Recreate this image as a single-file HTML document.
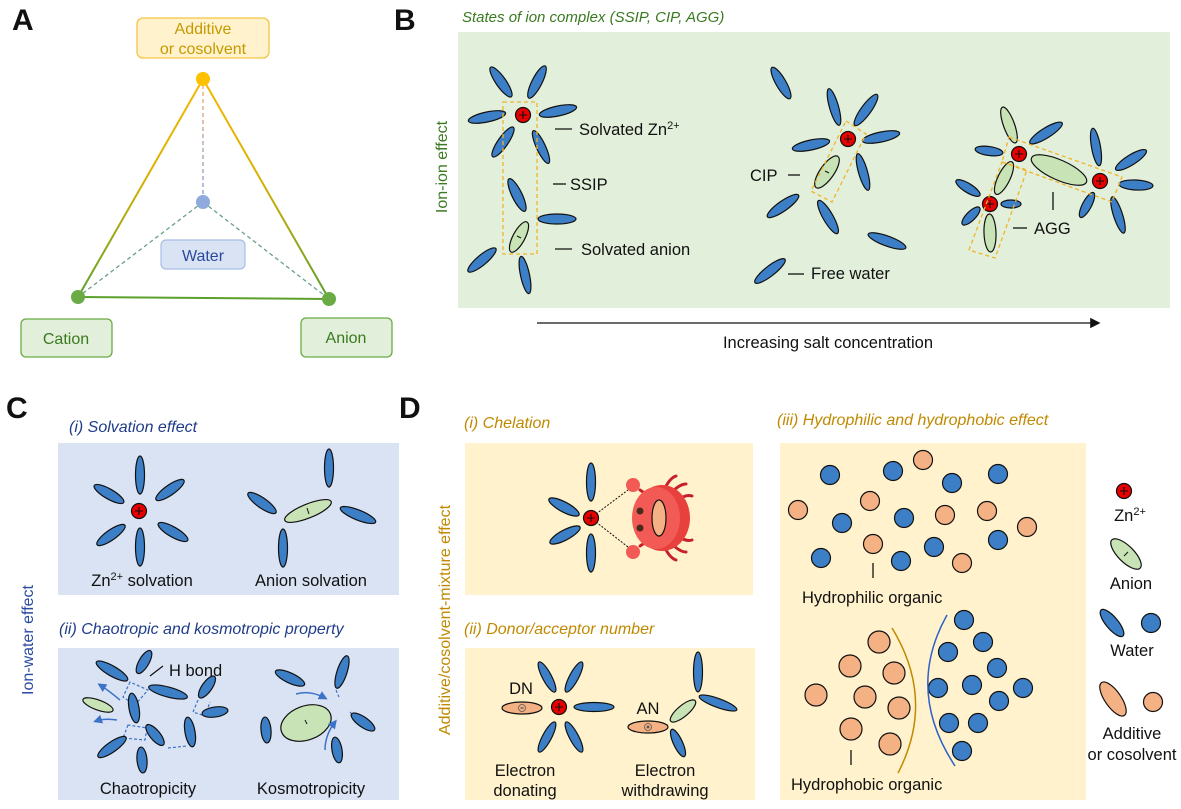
<!DOCTYPE html>
<html><head><meta charset="utf-8"><style>
html,body{margin:0;padding:0;background:#fff;}
svg{display:block;font-family:"Liberation Sans",Arial,sans-serif;}
.w{fill:#3d7fc6;stroke:#111;stroke-width:1.2}
.a{fill:#c8e3b6;stroke:#111;stroke-width:1.2}
.o{fill:#f4b183;stroke:#111;stroke-width:1.2}
.t{font-size:16.5px;fill:#111}
.dsh{fill:none;stroke:#f0b429;stroke-width:1.3;stroke-dasharray:4 3}
</style></head><body>
<svg width="1181" height="809" viewBox="0 0 1181 809" xmlns="http://www.w3.org/2000/svg">
<defs>
<g id="zn"><circle r="7.5" fill="#e60000" stroke="#111" stroke-width="1.2"/><path d="M-4 0H4M0 -4V4" stroke="#111" stroke-width="1.1"/></g>
<linearGradient id="gl" gradientUnits="userSpaceOnUse" x1="0" y1="79" x2="0" y2="299"><stop offset="0" stop-color="#f5b800"/><stop offset="0.45" stop-color="#d8b000"/><stop offset="1" stop-color="#5aa02c"/></linearGradient>
<linearGradient id="gv" gradientUnits="userSpaceOnUse" x1="0" y1="85" x2="0" y2="200"><stop offset="0" stop-color="#f0a860"/><stop offset="1" stop-color="#7a9ad8"/></linearGradient>
<marker id="ar" markerWidth="8" markerHeight="8" refX="6" refY="4" orient="auto"><path d="M0 0L8 4L0 8z" fill="#111"/></marker>
<marker id="ab" markerWidth="6" markerHeight="6" refX="4" refY="3" orient="auto"><path d="M0 0L6 3L0 6z" fill="#3b73c8"/></marker>
</defs>

<!-- Letters -->
<g font-weight="bold" font-size="30" fill="#111">
<text x="12" y="30">A</text><text x="394" y="30">B</text><text x="6" y="418">C</text><text x="399" y="418">D</text></g>

<!-- Panel A -->
<line x1="203" y1="79" x2="78" y2="297" stroke="url(#gl)" stroke-width="2"/>
<line x1="203" y1="79" x2="329" y2="299" stroke="url(#gl)" stroke-width="2"/>
<line x1="78" y1="297" x2="329" y2="299" stroke="#5aa02c" stroke-width="2"/>
<line x1="203" y1="85" x2="203" y2="200" stroke="url(#gv)" stroke-width="1.3" stroke-dasharray="4 3"/>
<line x1="203" y1="202" x2="78" y2="297" stroke="#6a9e8a" stroke-width="1.3" stroke-dasharray="4 3"/>
<line x1="203" y1="202" x2="329" y2="299" stroke="#6a9e8a" stroke-width="1.3" stroke-dasharray="4 3"/>
<circle cx="203" cy="79" r="7" fill="#ffc000"/>
<circle cx="203" cy="202" r="7" fill="#8faadc"/>
<circle cx="78" cy="297" r="7" fill="#6aab45"/>
<circle cx="329" cy="299" r="7" fill="#6aab45"/>
<rect x="137" y="18" width="132" height="40" rx="6" fill="#fff2cc" stroke="#f4c542" stroke-width="1.3"/>
<text x="203" y="34" text-anchor="middle" font-size="16" fill="#c59a00">Additive</text>
<text x="203" y="54" text-anchor="middle" font-size="16" fill="#c59a00">or cosolvent</text>
<rect x="161" y="240" width="84" height="29" rx="5" fill="#dae3f3" stroke="#a9bde6" stroke-width="1.2"/>
<text x="203" y="261" text-anchor="middle" font-size="16" fill="#2a4aa0">Water</text>
<rect x="21" y="319" width="91" height="38" rx="5" fill="#e2efda" stroke="#6aab45" stroke-width="1.3"/>
<text x="66" y="344" text-anchor="middle" font-size="16" fill="#3a7a20">Cation</text>
<rect x="301" y="318" width="91" height="39" rx="5" fill="#e2efda" stroke="#6aab45" stroke-width="1.3"/>
<text x="346" y="343" text-anchor="middle" font-size="16" fill="#3a7a20">Anion</text>

<!-- Panel B -->
<text x="462" y="22" font-size="15" font-style="italic" fill="#3a7a20">States of ion complex (SSIP, CIP, AGG)</text>
<rect x="458" y="32" width="712" height="276" fill="#e2efda"/>
<text transform="translate(447,167) rotate(-90)" text-anchor="middle" font-size="16" fill="#3a7a20">Ion-ion effect</text>
<line x1="537" y1="323" x2="1098" y2="323" stroke="#111" stroke-width="1.3" marker-end="url(#ar)"/>
<text x="828" y="348" text-anchor="middle" class="t">Increasing salt concentration</text>

<!-- group 1 -->
<ellipse class="w" rx="18" ry="5" transform="translate(501,82) rotate(55)"/>
<ellipse class="w" rx="18" ry="5" transform="translate(537,82) rotate(-63)"/>
<ellipse class="w" rx="19" ry="5" transform="translate(487,117) rotate(-12)"/>
<ellipse class="w" rx="19" ry="5" transform="translate(558,111) rotate(-12)"/>
<ellipse class="w" rx="18" ry="5" transform="translate(503,142) rotate(-55)"/>
<ellipse class="w" rx="18" ry="4.5" transform="translate(541,147) rotate(65)"/>
<ellipse class="w" rx="18" ry="5" transform="translate(517,195) rotate(64)"/>
<ellipse class="w" rx="19" ry="5" transform="translate(557,219) rotate(0)"/>
<ellipse class="w" rx="18" ry="5" transform="translate(482,260) rotate(-40)"/>
<ellipse class="w" rx="19" ry="4.5" transform="translate(525,275) rotate(78)"/>
<ellipse class="a" rx="17" ry="6" transform="translate(519,237) rotate(-62)"/>
<line x1="517" y1="236" x2="521" y2="238" stroke="#111"/>
<use href="#zn" x="523" y="115"/>
<rect x="503" y="102" width="34" height="152" class="dsh"/>
<g stroke="#111" stroke-width="1.3"><line x1="555" y1="129" x2="572" y2="129"/><line x1="553" y1="184" x2="566" y2="184"/><line x1="555" y1="249" x2="572" y2="249"/></g>
<text x="579" y="135" class="t">Solvated Zn<tspan font-size="11" dy="-6">2+</tspan></text>
<text x="570" y="190" class="t">SSIP</text>
<text x="581" y="255" class="t">Solvated anion</text>

<!-- group 2 -->
<ellipse class="w" rx="18" ry="5" transform="translate(781,83) rotate(60)"/>
<ellipse class="w" rx="19" ry="4.5" transform="translate(834,107) rotate(74)"/>
<ellipse class="w" rx="19" ry="5" transform="translate(866,110) rotate(-54)"/>
<ellipse class="w" rx="19" ry="5" transform="translate(811,145) rotate(-12)"/>
<ellipse class="w" rx="19" ry="5" transform="translate(881,137) rotate(-12)"/>
<ellipse class="w" rx="19" ry="4.5" transform="translate(863,172) rotate(74)"/>
<ellipse class="w" rx="19" ry="5" transform="translate(783,206) rotate(-35)"/>
<ellipse class="w" rx="19" ry="5" transform="translate(828,217) rotate(60)"/>
<ellipse class="w" rx="20" ry="5" transform="translate(887,241) rotate(20)"/>
<ellipse class="w" rx="19" ry="5" transform="translate(770,271) rotate(-38)"/>
<ellipse class="a" rx="19" ry="7" transform="translate(827,172) rotate(-55)"/>
<line x1="825" y1="171" x2="829" y2="173" stroke="#111"/>
<use href="#zn" x="848" y="139"/>
<polygon points="846,121 866,134 832,202 811,191" class="dsh"/>
<g stroke="#111" stroke-width="1.3"><line x1="788" y1="175" x2="800" y2="175"/><line x1="788" y1="274" x2="804" y2="274"/></g>
<text x="750" y="181" class="t">CIP</text>
<text x="811" y="279" class="t">Free water</text>

<!-- group 3 -->
<ellipse class="w" rx="19" ry="5" transform="translate(1046,133) rotate(-32)"/>
<ellipse class="w" rx="14" ry="4.5" transform="translate(989,151) rotate(8)"/>
<ellipse class="w" rx="19" ry="4.5" transform="translate(1096,147) rotate(80)"/>
<ellipse class="w" rx="18" ry="5" transform="translate(1131,160) rotate(-32)"/>
<ellipse class="w" rx="17" ry="5" transform="translate(1136,185) rotate(3)"/>
<ellipse class="w" rx="14" ry="4.5" transform="translate(1087,205) rotate(-62)"/>
<ellipse class="w" rx="19" ry="4.5" transform="translate(1118,215) rotate(72)"/>
<ellipse class="w" rx="14" ry="4.5" transform="translate(968,188) rotate(32)"/>
<ellipse class="w" rx="10" ry="4" transform="translate(1011,204) rotate(0)"/>
<ellipse class="w" rx="12" ry="4.5" transform="translate(971,216) rotate(-45)"/>
<ellipse class="a" rx="30" ry="10" transform="translate(1059,170) rotate(24)"/>
<ellipse class="a" rx="19" ry="5.5" transform="translate(1009,125) rotate(70)"/>
<ellipse class="a" rx="18" ry="6" transform="translate(1004,178) rotate(-64)"/>
<ellipse class="a" rx="19" ry="6" transform="translate(990,233) rotate(88)"/>
<use href="#zn" x="1019" y="154"/><use href="#zn" x="1100" y="181"/><use href="#zn" x="990" y="204"/>
<polygon points="1009,137 1122,177 1112,202 1002,162" class="dsh"/>
<polygon points="1002,162 1027,170 995,258 969,250" class="dsh"/>
<g stroke="#111" stroke-width="1.3"><line x1="1053" y1="192" x2="1053" y2="210"/><line x1="1013" y1="228" x2="1027" y2="228"/></g>
<text x="1034" y="234" class="t">AGG</text>

<!-- Panel C -->
<text transform="translate(33,640) rotate(-90)" text-anchor="middle" font-size="16" fill="#2a4aa0">Ion-water effect</text>
<text x="69" y="432" font-size="16" font-style="italic" fill="#1f3c88">(i) Solvation effect</text>
<rect x="58" y="443" width="341" height="152" fill="#dae3f3"/>
<ellipse class="w" rx="19" ry="4.5" transform="translate(140,475) rotate(90)"/>
<ellipse class="w" rx="19" ry="4.5" transform="translate(140,547) rotate(90)"/>
<ellipse class="w" rx="17" ry="5" transform="translate(109,494) rotate(30)"/>
<ellipse class="w" rx="17" ry="5" transform="translate(170,490) rotate(-35)"/>
<ellipse class="w" rx="17" ry="5" transform="translate(111,535) rotate(-35)"/>
<ellipse class="w" rx="17" ry="5" transform="translate(173,532) rotate(30)"/>
<use href="#zn" x="139" y="511"/>
<ellipse class="w" rx="19" ry="4.5" transform="translate(329,468) rotate(90)"/>
<ellipse class="w" rx="17" ry="5" transform="translate(262,503) rotate(35)"/>
<ellipse class="w" rx="19" ry="5" transform="translate(358,515) rotate(22)"/>
<ellipse class="w" rx="19" ry="4.5" transform="translate(283,548) rotate(90)"/>
<ellipse class="a" rx="25" ry="7" transform="translate(308,511) rotate(-22)"/>
<line x1="307" y1="508" x2="309" y2="514" stroke="#111"/>
<text x="142" y="586" text-anchor="middle" class="t">Zn<tspan font-size="11" dy="-6">2+</tspan><tspan dy="6"> solvation</tspan></text>
<text x="311" y="586" text-anchor="middle" class="t">Anion solvation</text>

<text x="59" y="634" font-size="16" font-style="italic" fill="#1f3c88">(ii) Chaotropic and kosmotropic property</text>
<rect x="58" y="648" width="341" height="152" fill="#dae3f3"/>
<g stroke="#3b73c8" stroke-width="1.2" stroke-dasharray="3 2" fill="none">
<path d="M130 682 L123 697 L135 705 L148 690 Z"/><path d="M198 700 L193 712 L205 716 L210 702"/>
<path d="M128 725 L123 738 L145 740 L147 728 Z"/><path d="M168 748 L187 746"/>
<path d="M336 690 L339 697"/><path d="M350 712 L355 717"/></g>
<ellipse class="w" rx="18" ry="5" transform="translate(112,671) rotate(30)"/>
<ellipse class="w" rx="13" ry="5" transform="translate(144,662) rotate(-60)"/>
<ellipse class="w" rx="20" ry="5" transform="translate(168,692) rotate(15)"/>
<ellipse class="w" rx="13" ry="5" transform="translate(207,687) rotate(-55)"/>
<ellipse class="w" rx="13" ry="5" transform="translate(215,712) rotate(-8)"/>
<ellipse class="w" rx="15" ry="5" transform="translate(134,708) rotate(80)"/>
<ellipse class="w" rx="15" ry="5" transform="translate(190,732) rotate(80)"/>
<ellipse class="w" rx="17" ry="5" transform="translate(112,747) rotate(-35)"/>
<ellipse class="w" rx="13" ry="5" transform="translate(155,735) rotate(50)"/>
<ellipse class="w" rx="13" ry="5" transform="translate(142,760) rotate(85)"/>
<ellipse class="a" rx="16" ry="5" transform="translate(98,705) rotate(20)"/>
<path d="M120 700 Q108 690 100 685" stroke="#3b73c8" stroke-width="1.5" fill="none" marker-end="url(#ab)"/>
<path d="M117 720 Q105 718 96 721" stroke="#3b73c8" stroke-width="1.5" fill="none" marker-end="url(#ab)"/>
<line x1="150" y1="676" x2="163" y2="666" stroke="#111" stroke-width="1.2"/>
<text x="169" y="676" class="t">H bond</text>
<ellipse class="w" rx="16" ry="5" transform="translate(290,678) rotate(25)"/>
<ellipse class="w" rx="17" ry="5" transform="translate(342,672) rotate(-72)"/>
<ellipse class="w" rx="14" ry="5" transform="translate(363,722) rotate(35)"/>
<ellipse class="w" rx="13" ry="5" transform="translate(337,750) rotate(80)"/>
<ellipse class="w" rx="13" ry="5" transform="translate(266,730) rotate(85)"/>
<ellipse class="a" rx="26" ry="17" transform="translate(306,723) rotate(-20)"/>
<line x1="305" y1="720" x2="307" y2="724" stroke="#111"/>
<path d="M296 694 Q310 690 325 698" stroke="#3b73c8" stroke-width="1.5" fill="none" marker-end="url(#ab)"/>
<path d="M325 750 Q325 735 335 722" stroke="#3b73c8" stroke-width="1.5" fill="none" marker-end="url(#ab)"/>
<text x="148" y="794" text-anchor="middle" class="t">Chaotropicity</text>
<text x="311" y="794" text-anchor="middle" class="t">Kosmotropicity</text>

<!-- Panel D -->
<text transform="translate(450,620) rotate(-90)" text-anchor="middle" font-size="16" fill="#c08a00">Additive/cosolvent-mixture effect</text>
<text x="464" y="428" font-size="16" font-style="italic" fill="#c08a00">(i) Chelation</text>
<rect x="465" y="443" width="288" height="152" fill="#fff2cc"/>
<ellipse class="w" rx="19" ry="4.5" transform="translate(591,482) rotate(90)"/>
<ellipse class="w" rx="19" ry="4.5" transform="translate(591,553) rotate(90)"/>
<ellipse class="w" rx="17" ry="5" transform="translate(564,507) rotate(28)"/>
<ellipse class="w" rx="17" ry="5" transform="translate(565,535) rotate(-28)"/>
<g stroke="#111" stroke-dasharray="2 1.5" stroke-width="1"><line x1="596" y1="514" x2="628" y2="490"/><line x1="596" y1="522" x2="628" y2="547"/></g>
<use href="#zn" x="591" y="518"/>
<g stroke="#c8202a" stroke-width="3" fill="none" stroke-linecap="round">
<path d="M665 488 Q670 478 676 476"/><path d="M672 492 Q680 484 686 484"/><path d="M678 500 Q686 494 692 496"/>
<path d="M665 548 Q670 558 676 560"/><path d="M672 544 Q680 552 686 552"/><path d="M678 536 Q686 542 692 540"/>
<path d="M640 490 L652 498"/><path d="M640 546 L652 538"/></g>
<ellipse cx="662" cy="518" rx="28" ry="33" fill="#e8403c"/>
<ellipse cx="656" cy="518" rx="24" ry="31" fill="#f25a55"/>
<circle cx="633" cy="485" r="7" fill="#f25a55"/><circle cx="633" cy="552" r="7" fill="#f25a55"/>
<ellipse cx="659" cy="518" rx="7" ry="18" fill="#f4b183" stroke="#111" stroke-width="1.2"/>
<circle cx="640" cy="511" r="3.5" fill="#4a2a1a"/><circle cx="640" cy="528" r="3.5" fill="#4a2a1a"/>

<text x="464" y="634" font-size="16" font-style="italic" fill="#c08a00">(ii) Donor/acceptor number</text>
<rect x="465" y="648" width="290" height="152" fill="#fff2cc"/>
<ellipse class="w" rx="17" ry="4.5" transform="translate(547,677) rotate(62)"/>
<ellipse class="w" rx="17" ry="4.5" transform="translate(574,677) rotate(-62)"/>
<ellipse class="w" rx="20" ry="4.5" transform="translate(594,707) rotate(0)"/>
<ellipse class="w" rx="17" ry="4.5" transform="translate(547,737) rotate(-62)"/>
<ellipse class="w" rx="17" ry="4.5" transform="translate(574,737) rotate(62)"/>
<ellipse class="o" cx="522" cy="708" rx="20" ry="6"/><circle cx="522" cy="708" r="3.5" fill="none" stroke="#555" stroke-width="0.8"/><line x1="520.5" y1="708" x2="523.5" y2="708" stroke="#333"/>
<use href="#zn" x="559" y="707"/>
<text x="521" y="694" text-anchor="middle" class="t">DN</text>
<ellipse class="w" rx="20" ry="4.5" transform="translate(698,672) rotate(90)"/>
<ellipse class="w" rx="20" ry="4.5" transform="translate(718,703) rotate(20)"/>
<ellipse class="w" rx="15" ry="4.5" transform="translate(678,743) rotate(65)"/>
<ellipse class="a" rx="16" ry="5.5" transform="translate(683,711) rotate(-40)"/>
<ellipse class="o" cx="648" cy="727" rx="20" ry="6"/><circle cx="648" cy="727" r="3.5" fill="none" stroke="#555" stroke-width="0.8"/><path d="M646.5 727H649.5M648 725.5V728.5" stroke="#333"/>
<text x="648" y="714" text-anchor="middle" class="t">AN</text>
<text x="525" y="776" text-anchor="middle" class="t">Electron</text>
<text x="525" y="796" text-anchor="middle" class="t">donating</text>
<text x="665" y="776" text-anchor="middle" class="t">Electron</text>
<text x="665" y="796" text-anchor="middle" class="t">withdrawing</text>

<text x="777" y="425" font-size="16" font-style="italic" fill="#c08a00">(iii) Hydrophilic and hydrophobic effect</text>
<rect x="780" y="443" width="306" height="357" fill="#fff2cc"/>
<g stroke="#111" stroke-width="1.2">
<g fill="#3d7fc6">
<circle cx="830" cy="475" r="9.5"/><circle cx="893" cy="471" r="9.5"/><circle cx="952" cy="483" r="9.5"/><circle cx="998" cy="474" r="9.5"/>
<circle cx="842" cy="523" r="9.5"/><circle cx="904" cy="518" r="9.5"/><circle cx="934" cy="547" r="9.5"/><circle cx="998" cy="540" r="9.5"/>
<circle cx="821" cy="558" r="9.5"/><circle cx="901" cy="561" r="9.5"/>
<circle cx="964" cy="620" r="9.5"/><circle cx="983" cy="642" r="9.5"/><circle cx="948" cy="652" r="9.5"/><circle cx="997" cy="668" r="9.5"/>
<circle cx="938" cy="688" r="9.5"/><circle cx="972" cy="685" r="9.5"/><circle cx="1023" cy="688" r="9.5"/><circle cx="999" cy="701" r="9.5"/>
<circle cx="949" cy="723" r="9.5"/><circle cx="978" cy="723" r="9.5"/><circle cx="962" cy="751" r="9.5"/>
<circle cx="1151" cy="623" r="9.5"/></g>
<g fill="#f4b183">
<circle cx="923" cy="460" r="9.5"/><circle cx="798" cy="510" r="9.5"/><circle cx="870" cy="501" r="9.5"/><circle cx="945" cy="515" r="9.5"/>
<circle cx="987" cy="511" r="9.5"/><circle cx="1027" cy="527" r="9.5"/><circle cx="873" cy="544" r="9.5"/><circle cx="962" cy="563" r="9.5"/>
<circle cx="879" cy="642" r="11"/><circle cx="850" cy="666" r="11"/><circle cx="894" cy="673" r="11"/><circle cx="816" cy="695" r="11"/>
<circle cx="865" cy="697" r="11"/><circle cx="899" cy="708" r="11"/><circle cx="851" cy="729" r="11"/><circle cx="890" cy="744" r="11"/>
<circle cx="1153" cy="702" r="9.5"/></g>
</g>
<path d="M892 628 Q936 700 898 773" stroke="#c08a00" stroke-width="1.5" fill="none"/>
<path d="M947 615 Q905 690 955 766" stroke="#2f62c8" stroke-width="1.5" fill="none"/>
<g stroke="#111" stroke-width="1.3"><line x1="873" y1="563" x2="873" y2="578"/><line x1="851" y1="750" x2="851" y2="765"/></g>
<text x="802" y="603" class="t">Hydrophilic organic</text>
<text x="791" y="790" class="t">Hydrophobic organic</text>

<!-- legend -->
<use href="#zn" x="1124" y="491"/>
<text x="1130" y="521" text-anchor="middle" class="t">Zn<tspan font-size="11" dy="-6">2+</tspan></text>
<ellipse class="a" rx="20" ry="8" transform="translate(1126,554) rotate(45)"/>
<line x1="1124" y1="556" x2="1128" y2="552" stroke="#111"/>
<text x="1131" y="589" text-anchor="middle" class="t">Anion</text>
<ellipse class="w" rx="17" ry="6" transform="translate(1112,623) rotate(50)"/>
<text x="1132" y="656" text-anchor="middle" class="t">Water</text>
<ellipse class="o" rx="20" ry="8" transform="translate(1113,699) rotate(55)"/>
<text x="1132" y="739" text-anchor="middle" class="t">Additive</text>
<text x="1132" y="760" text-anchor="middle" class="t">or cosolvent</text>
</svg>
</body></html>
